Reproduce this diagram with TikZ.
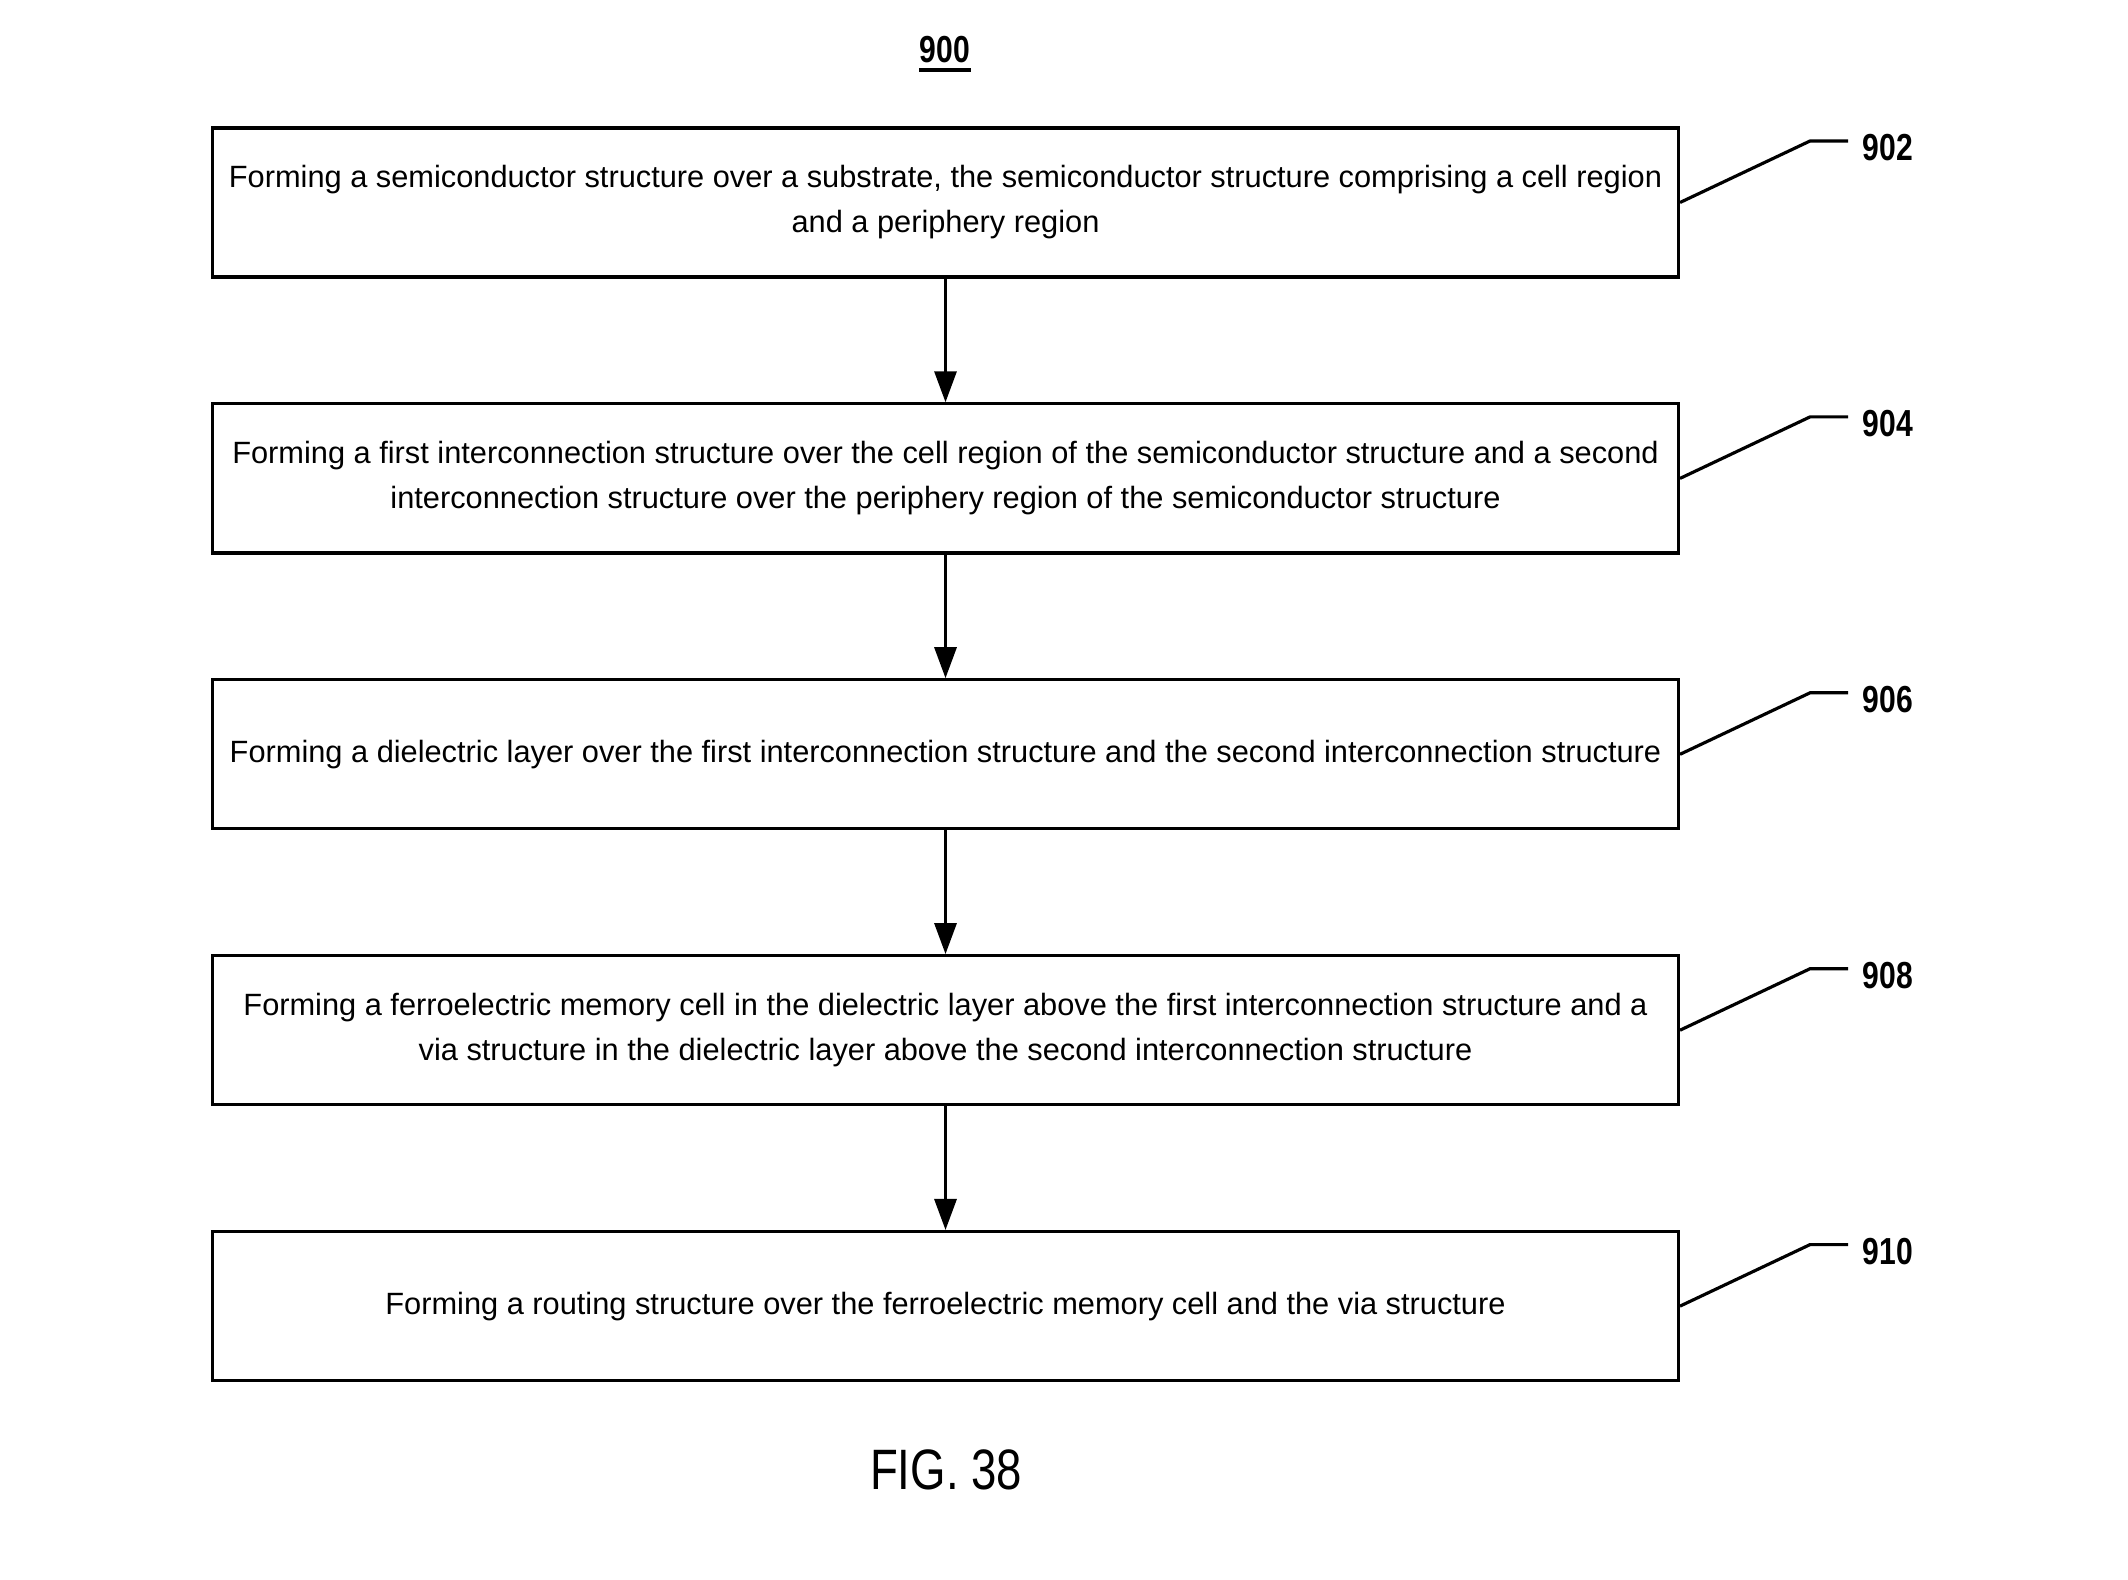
\documentclass[tikz,border=0pt]{standalone}
\usepackage{fontspec}
\setmainfont{Liberation Sans}
\newfontfamily\narrowfont[FakeStretch=0.8]{Liberation Sans}
\usetikzlibrary{positioning, arrows.meta}

\tikzset{
  stepbox/.style={draw, line width=0.9pt, minimum width=14.65cm, minimum height=1.49cm,
    inner sep=0pt, align=center, font=\fontsize{8.75}{12.8}\selectfont},
  flow/.style={-{Triangle[length=0.31cm, width=0.22cm]}, line width=0.9pt},
  leader/.style={line width=0.9pt},
  reflabel/.style={font=\narrowfont\bfseries\fontsize{10.7}{12}\selectfont, inner sep=0pt}
}

\begin{document}
\begin{tikzpicture}[x=0.01cm, y=-0.01cm]
    \useasboundingbox (0,0) rectangle (2128,1579);

    % Title
    \node[reflabel] (title) at (945,50) {900};
    \draw[line width=0.9pt] ([yshift=-0.06cm]title.south west) -- ([yshift=-0.06cm]title.south east);

    % Steps
    \foreach \n/\txt [count=\k from 0] in {
        902/{Forming a semiconductor structure over a substrate, the semiconductor structure comprising a cell region\\and a periphery region},
        904/{Forming a first interconnection structure over the cell region of the semiconductor structure and a second\\interconnection structure over the periphery region of the semiconductor structure},
        906/{Forming a dielectric layer over the first interconnection structure and the second interconnection structure},
        908/{Forming a ferroelectric memory cell in the dielectric layer above the first interconnection structure and a\\via structure in the dielectric layer above the second interconnection structure},
        910/{Forming a routing structure over the ferroelectric memory cell and the via structure}} {
        \node[stepbox] (step\n) at (945.5,202.5+275.9*\k) {\txt};
        % leader line and reference number
        \coordinate (bend\n) at (1810,141+275.9*\k);
        \coordinate (end\n) at (1848,141+275.9*\k);
        \draw[leader] (step\n.east) -- (bend\n) -- (end\n);
        \node[reflabel, anchor=west] (lab\n) at (1862,148+275.9*\k) {\n};
    }

    % Arrows
    \draw[flow] (step902) -- (step904);
    \draw[flow] (step904) -- (step906);
    \draw[flow] (step906) -- (step908);
    \draw[flow] (step908) -- (step910);

    % Figure caption
    \node[font=\narrowfont\fontsize{16.2}{18}\selectfont] (fig) at (946,1470) {FIG. 38};
\end{tikzpicture}
\end{document}
